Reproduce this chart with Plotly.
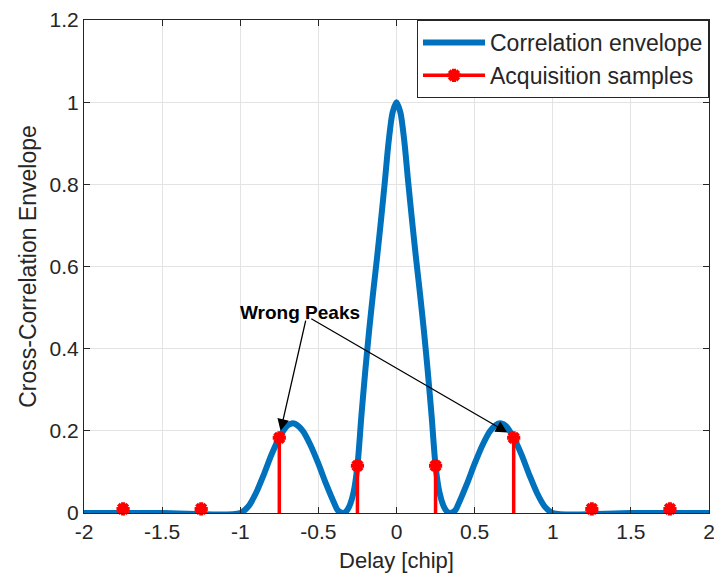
import plotly.graph_objects as go

# Correlation envelope versus code delay (chips)
delay = [-2.0, -1.5, -1.0, -0.95, -0.9, -0.85, -0.8, -0.75, -0.7, -0.67, -0.65, -0.6,
         -0.55, -0.5, -0.45, -0.4, -0.375, -0.34, -0.32, -0.3, -0.275, -0.25, -0.225,
         -0.2, -0.175, -0.15, -0.125, -0.1, -0.075, -0.05, -0.025, 0.0,
         0.025, 0.05, 0.075, 0.1, 0.125, 0.15, 0.175, 0.2, 0.225, 0.25, 0.275, 0.3,
         0.32, 0.34, 0.375, 0.4, 0.45, 0.5, 0.55, 0.6, 0.65, 0.67, 0.7, 0.75, 0.8,
         0.85, 0.9, 0.95, 1.0, 1.5, 2.0]
envelope = [0.0, 0.0, 0.0, 0.015, 0.048, 0.093, 0.142, 0.183, 0.212, 0.218, 0.217, 0.2,
            0.165, 0.12, 0.07, 0.025, 0.006, 0.0, 0.005, 0.018, 0.05, 0.115, 0.235,
            0.345, 0.445, 0.535, 0.62, 0.71, 0.805, 0.905, 0.975, 1.0,
            0.975, 0.905, 0.805, 0.71, 0.62, 0.535, 0.445, 0.345, 0.235, 0.115, 0.05, 0.018,
            0.005, 0.0, 0.006, 0.025, 0.07, 0.12, 0.165, 0.2, 0.217, 0.218, 0.212, 0.183, 0.142,
            0.093, 0.048, 0.015, 0.0, 0.0, 0.0]

# Acquisition search cells (half-chip spacing)
sample_delay = [-1.75, -1.25, -0.75, -0.25, 0.25, 0.75, 1.25, 1.75]
sample_value = [0.01, 0.01, 0.183, 0.115, 0.115, 0.183, 0.01, 0.01]

x_ticks = [-2, -1.5, -1, -0.5, 0, 0.5, 1, 1.5, 2]
x_labels = ["-2", "-1.5", "-1", "-0.5", "0", "0.5", "1", "1.5", "2"]
y_ticks = [0, 0.2, 0.4, 0.6, 0.8, 1.0, 1.2]
y_labels = ["0", "0.2", "0.4", "0.6", "0.8", "1", "1.2"]

BLUE = "#0072BD"
RED = "#FF0000"
INK = "#262626"
FONT = "Liberation Sans, Arial, sans-serif"

fig = go.Figure()

fig.add_trace(go.Scatter(
    x=delay, y=envelope, mode="lines", name="Correlation envelope",
    line=dict(color=BLUE, width=6, shape="spline", smoothing=0.8),
    cliponaxis=False,
))

# stems drawn as segments from the baseline up to each sample
stem_x, stem_y = [], []
for sx, sv in zip(sample_delay, sample_value):
    stem_x += [sx, sx, None]
    stem_y += [0, sv, None]
fig.add_trace(go.Scatter(
    x=stem_x, y=stem_y, mode="lines", showlegend=False, hoverinfo="skip",
    line=dict(color=RED, width=3.5), cliponaxis=False,
))
fig.add_trace(go.Scatter(
    x=sample_delay, y=sample_value, mode="markers", showlegend=False,
    marker=dict(symbol="asterisk-open", size=11, color=RED,
                line=dict(color=RED, width=4)),
    cliponaxis=False,
))
# legend entry combining stem line and marker
fig.add_trace(go.Scatter(
    x=[None], y=[None], mode="lines+markers", name="Acquisition samples",
    line=dict(color=RED, width=3.5),
    marker=dict(symbol="asterisk-open", size=11, color=RED,
                line=dict(color=RED, width=4)),
))

# "Wrong Peaks" label with arrows to both side lobes
fig.add_annotation(x=-0.62, y=0.489, text="<b>Wrong Peaks</b>", showarrow=False,
                   font=dict(family=FONT, size=19, color="black"))
for tip_x, tip_y, tail_x, tail_y in [(-0.742, 0.2, -0.579, 0.472), (0.71, 0.196, -0.555, 0.475)]:
    fig.add_annotation(x=tip_x, y=tip_y, ax=tail_x, ay=tail_y, axref="x", ayref="y",
                       text="", showarrow=True, arrowhead=2, arrowsize=1.8,
                       arrowwidth=1.3, arrowcolor="black", standoff=0)

axis_common = dict(
    showline=True, linecolor=INK, linewidth=1, mirror="ticks",
    ticks="inside", ticklen=6, tickcolor=INK, tickwidth=1,
    showgrid=True, gridcolor="#E3E3E3", gridwidth=1, zeroline=False,
    tickfont=dict(family=FONT, size=21, color=INK),
    ticklabeloverflow="allow", automargin=False,
)

fig.update_xaxes(range=[-2, 2], tickvals=x_ticks, ticktext=x_labels,
                 title=dict(text="Delay [chip]", font=dict(family=FONT, size=22, color=INK),
                            standoff=10),
                 **axis_common)
fig.update_yaxes(range=[0, 1.2], tickvals=y_ticks, ticktext=y_labels,
                 title=dict(text="Cross-Correlation Envelope",
                            font=dict(family=FONT, size=23, color=INK), standoff=6),
                 **axis_common)

fig.update_layout(
    width=714, height=578,
    margin=dict(l=84, r=5, t=20, b=65),
    plot_bgcolor="white", paper_bgcolor="white",
    font=dict(family=FONT, color=INK),
    legend=dict(x=1, y=1, xanchor="right", yanchor="top",
                bgcolor="white", bordercolor=INK, borderwidth=1,
                font=dict(family=FONT, size=23, color=INK),
                itemwidth=62, tracegroupgap=0),
    showlegend=True,
)

fig.write_html("out.html")
